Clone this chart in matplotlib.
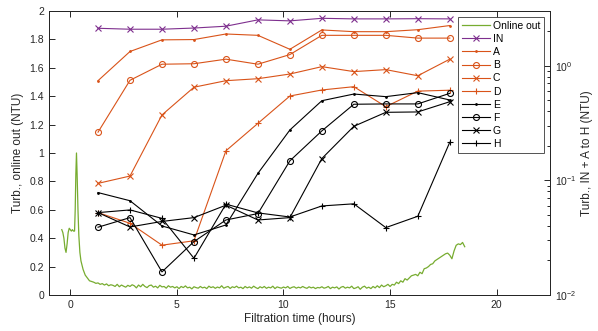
import matplotlib
matplotlib.use("Agg")
import matplotlib.pyplot as plt
from matplotlib.ticker import FuncFormatter, LogLocator, NullFormatter

plt.rcParams['font.family'] = ['Liberation Sans', 'DejaVu Sans']

# ---------------- data ----------------
sample_t = [1.3, 2.8, 4.3, 5.8, 7.3, 8.8, 10.3, 11.8, 13.3, 14.8, 16.3, 17.8]

IN = [2.12, 2.08, 2.08, 2.13, 2.21, 2.51, 2.46, 2.59, 2.56, 2.56, 2.57, 2.56]
A = [0.740, 1.33, 1.68, 1.69, 1.89, 1.84, 1.39, 2.05, 1.98, 1.98, 2.06, 2.24]
B = [0.263, 0.746, 1.03, 1.04, 1.14, 1.03, 1.25, 1.84, 1.84, 1.84, 1.74, 1.74]
C = [0.0941, 0.109, 0.372, 0.649, 0.740, 0.770, 0.846, 0.981, 0.888, 0.924, 0.817, 1.14]
D = [0.0523, 0.0422, 0.0272, 0.0297, 0.181, 0.314, 0.544, 0.614, 0.656, 0.439, 0.600, 0.611]
E = [0.0782, 0.0664, 0.0400, 0.0334, 0.0408, 0.115, 0.275, 0.495, 0.566, 0.537, 0.582, 0.502]
F = [0.0390, 0.0473, 0.0159, 0.0292, 0.0451, 0.0513, 0.148, 0.270, 0.461, 0.464, 0.464, 0.574]
G = [0.0523, 0.0392, 0.0438, 0.0473, 0.0607, 0.0451, 0.0473, 0.155, 0.296, 0.392, 0.395, 0.485]
H = [0.0523, 0.0552, 0.0466, 0.0209, 0.0620, 0.0520, 0.0479, 0.0598, 0.0624, 0.0387, 0.0486, 0.215]

online_t = [-0.4, -0.35, -0.3, -0.25, -0.2, -0.15, -0.1, -0.05, 0.0, 0.05, 0.1, 0.15, 0.2,
            0.23, 0.26, 0.29, 0.32, 0.36, 0.4, 0.45, 0.5, 0.6, 0.7, 0.8, 0.9,
            1.0, 1.1, 1.2, 1.3, 1.4, 1.5, 1.6, 1.7, 1.8, 1.9,
            2.0, 2.1, 2.2, 2.3, 2.4, 2.5, 2.6, 2.7, 2.8, 2.9,
            3.0, 3.1, 3.2, 3.3, 3.4, 3.5, 3.6, 3.7, 3.8, 3.9,
            4.0, 4.1, 4.2, 4.3, 4.4, 4.5, 4.6, 4.7, 4.8, 4.9,
            5.0, 5.1, 5.2, 5.3, 5.4, 5.5, 5.6, 5.7, 5.8, 5.9,
            6.0, 6.1, 6.2, 6.3, 6.4, 6.5, 6.6, 6.7, 6.8, 6.9,
            7.0, 7.1, 7.2, 7.3, 7.4, 7.5, 7.6, 7.7, 7.8, 7.9,
            8.0, 8.1, 8.2, 8.3, 8.4, 8.5, 8.6, 8.7, 8.8, 8.9,
            9.0, 9.1, 9.2, 9.3, 9.4, 9.5, 9.6, 9.7, 9.8, 9.9,
            10.0, 10.1, 10.2, 10.3, 10.4, 10.5, 10.6, 10.7, 10.8, 10.9,
            11.0, 11.1, 11.2, 11.3, 11.4, 11.5, 11.6, 11.7, 11.8, 11.9,
            12.0, 12.1, 12.2, 12.3, 12.4, 12.5, 12.6, 12.7, 12.8, 12.9,
            13.0, 13.1, 13.2, 13.3, 13.4, 13.5, 13.6, 13.7, 13.8, 13.9,
            14.0, 14.1, 14.2, 14.3, 14.4, 14.5, 14.6, 14.7, 14.8, 14.9,
            15.0, 15.1, 15.2, 15.3, 15.4, 15.5, 15.6, 15.7, 15.8, 15.9,
            16.0, 16.1, 16.2, 16.3, 16.4, 16.5, 16.6, 16.7, 16.8, 16.9,
            17.0, 17.1, 17.2, 17.3, 17.4, 17.5, 17.6, 17.7, 17.8, 17.9,
            18.0, 18.1, 18.2, 18.3, 18.4, 18.5]
online_v = [0.46, 0.44, 0.40, 0.33, 0.30, 0.36, 0.44, 0.47, 0.46, 0.45, 0.46, 0.45, 0.45,
            0.60, 0.85, 1.00, 0.85, 0.60, 0.42, 0.30, 0.24, 0.18, 0.14, 0.12, 0.10,
            0.095, 0.09, 0.082, 0.085, 0.075, 0.08, 0.07, 0.078, 0.065, 0.072,
            0.068, 0.06, 0.075, 0.058, 0.07, 0.062, 0.055, 0.068, 0.06, 0.072,
            0.065, 0.05, 0.07, 0.058, 0.075, 0.06, 0.052, 0.066, 0.07, 0.055,
            0.062, 0.05, 0.068, 0.057, 0.06, 0.048, 0.065, 0.055, 0.06, 0.05,
            0.058, 0.045, 0.06, 0.052, 0.064, 0.05, 0.055, 0.043, 0.058, 0.052,
            0.048, 0.06, 0.05, 0.055, 0.045, 0.062, 0.052, 0.058, 0.047, 0.056,
            0.05, 0.065, 0.048, 0.055, 0.06, 0.046, 0.058, 0.052, 0.062, 0.05,
            0.055, 0.045, 0.06, 0.05, 0.057, 0.048, 0.062, 0.052, 0.045, 0.058,
            0.05, 0.06, 0.047, 0.055, 0.05, 0.062, 0.045, 0.057, 0.052, 0.048,
            0.056, 0.05, 0.06, 0.046, 0.054, 0.058, 0.048, 0.055, 0.05, 0.06,
            0.052, 0.047, 0.058, 0.05, 0.055, 0.045, 0.053, 0.05, 0.058, 0.048,
            0.052, 0.06, 0.045, 0.055, 0.05, 0.057, 0.042, 0.055, 0.06, 0.048,
            0.055, 0.05, 0.062, 0.045, 0.05, 0.058, 0.04, 0.055, 0.062, 0.048,
            0.055, 0.045, 0.06, 0.05, 0.065, 0.052, 0.07, 0.058, 0.065, 0.075,
            0.06, 0.075, 0.07, 0.09, 0.08, 0.10, 0.09, 0.115, 0.105, 0.12,
            0.135, 0.14, 0.145, 0.135, 0.16, 0.15, 0.185, 0.19, 0.20, 0.215,
            0.22, 0.24, 0.25, 0.26, 0.27, 0.28, 0.29, 0.295, 0.28, 0.255,
            0.31, 0.35, 0.36, 0.355, 0.37, 0.34]

x_ticks = [0, 5, 10, 15, 20]
y_ticks = [0, 0.2, 0.4, 0.6, 0.8, 1.0, 1.2, 1.4, 1.6, 1.8, 2.0]

# ---------------- style ----------------
GREEN = '#77ac30'
PURPLE = '#7e2f8e'
ORANGE = '#d95319'
TXT = '#262626'

fig = plt.figure(figsize=(5.98, 3.31), dpi=100)
ax = fig.add_axes([0.0819, 0.1088, 0.8378, 0.858])
ax2 = ax.twinx()

ax.plot(online_t, online_v, color=GREEN, lw=0.9, label='Online out')
ax.set_xlim(-1, 22.5)
ax.set_ylim(0, 2)
ax.set_xticks(x_ticks)
ax.set_yticks(y_ticks)
ax.yaxis.set_major_formatter(FuncFormatter(lambda v, p: '%g' % v))
ax.tick_params(direction='in', length=4, width=0.7, labelsize=7.5, colors=TXT,
               top=True, right=False)
ax.set_xlabel('Filtration time (hours)', fontsize=8.5, color=TXT, labelpad=2)
ax.set_ylabel('Turb., online out (NTU)', fontsize=8.5, color=TXT, labelpad=4)

series = [
    ('IN', IN, PURPLE, 'x'),
    ('A', A, ORANGE, '.'),
    ('B', B, ORANGE, 'o'),
    ('C', C, ORANGE, 'x'),
    ('D', D, ORANGE, '+'),
    ('E', E, 'black', '.'),
    ('F', F, 'black', 'o'),
    ('G', G, 'black', 'x'),
    ('H', H, 'black', '+'),
]
for name, vals, col, mk in series:
    if mk == '.':
        ax2.plot(sample_t, vals, color=col, lw=0.8, marker='.', ms=2,
                 mfc=col, mec=col, label=name)
    else:
        ax2.plot(sample_t, vals, color=col, lw=0.8, marker=mk, ms=4.3,
                 mfc='none', mec=col, mew=0.8, label=name)

ax2.set_yscale('log')
ax2.set_ylim(0.01, 3)
ax2.yaxis.set_major_locator(LogLocator(base=10))
ax2.yaxis.set_minor_locator(LogLocator(base=10, subs=range(2, 10)))
ax2.yaxis.set_minor_formatter(NullFormatter())
ax2.tick_params(which='both', direction='in', width=0.7, labelsize=7.5, colors=TXT)
ax2.tick_params(which='major', length=4)
ax2.tick_params(which='minor', length=2.5)
ax2.set_ylabel('Turb., IN + A to H (NTU)', fontsize=8.5, color=TXT, labelpad=3)

for a in (ax, ax2):
    for s in a.spines.values():
        s.set_linewidth(0.7)
        s.set_color(TXT)

h1, l1 = ax.get_legend_handles_labels()
h2, l2 = ax2.get_legend_handles_labels()
leg = ax2.legend(h1 + h2, l1 + l2, loc='upper right', fontsize=7.5,
                 frameon=True, fancybox=False, edgecolor=TXT,
                 handlelength=2.7, handletextpad=0.25, labelspacing=0.3,
                 borderpad=0.35, borderaxespad=0.6)
leg.get_frame().set_linewidth(0.7)

fig.savefig('out.png', dpi=100)
